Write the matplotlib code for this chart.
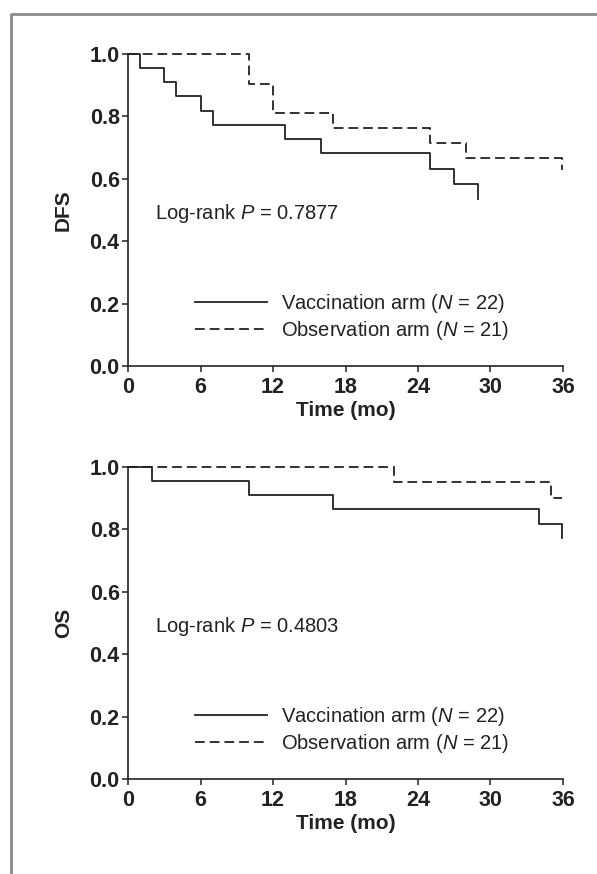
import matplotlib
matplotlib.use("Agg")
import matplotlib.pyplot as plt
from matplotlib.lines import Line2D

plt.rcParams['font.family'] = ['Liberation Sans', 'DejaVu Sans']
plt.rcParams['mathtext.fontset'] = 'custom'
plt.rcParams['mathtext.rm'] = 'Liberation Sans'
plt.rcParams['mathtext.it'] = 'Liberation Sans:italic'
plt.rcParams['lines.scale_dashes'] = False

# Kaplan-Meier steps (months, survival fraction)
dfs_vacc_t = [0, 1, 3, 4, 6, 7, 13, 16, 25, 27, 29]
dfs_vacc_s = [1.0, 0.955, 0.909, 0.864, 0.818, 0.773, 0.727, 0.682, 0.632, 0.584, 0.534]
dfs_obs_t = [0, 10, 12, 17, 25, 28, 35.9]
dfs_obs_s = [1.0, 0.905, 0.810, 0.762, 0.714, 0.667, 0.628]

os_vacc_t = [0, 2, 10, 17, 34, 35.9]
os_vacc_s = [1.0, 0.955, 0.909, 0.864, 0.818, 0.773]
os_obs_t = [0, 22, 35, 35.9]
os_obs_s = [1.0, 0.952, 0.900, 0.900]

x_ticks = [0, 6, 12, 18, 24, 30, 36]
y_ticks = [0.0, 0.2, 0.4, 0.6, 0.8, 1.0]
labels = ["Vaccination arm ($\\mathit{N}$ = 22)", "Observation arm ($\\mathit{N}$ = 21)"]
pvals = ["0.7877", "0.4803"]
ylabels = ["DFS", "OS"]

INK = '#222222'
W, H = 597, 874

fig = plt.figure(figsize=(W / 100, H / 100), dpi=100)

# grey frame, only top and left edges visible
fig.add_artist(Line2D([11 / W, 11 / W, 1.0], [0.0, 1 - 14 / H, 1 - 14 / H],
                      transform=fig.transFigure, color='#8c8c8c', lw=2.0))


def km_panel(rect, vacc_t, vacc_s, obs_t, obs_s, pval, ylab):
    ax = fig.add_axes(rect)
    ax.step(vacc_t, vacc_s, where='post', color=INK, lw=1.3, clip_on=False,
            label=labels[0])
    ax.step(obs_t, obs_s, where='post', color=INK, lw=1.3, clip_on=False,
            dashes=(7, 3.6), label=labels[1])
    ax.set_xlim(0, 36)
    ax.set_ylim(0, 1.0)
    ax.set_xticks(x_ticks)
    ax.set_yticks(y_ticks)
    ax.set_yticklabels(["%.1f" % v for v in y_ticks])
    for s in ('top', 'right'):
        ax.spines[s].set_visible(False)
    for s in ('left', 'bottom'):
        ax.spines[s].set_linewidth(1.2)
        ax.spines[s].set_color(INK)
    ax.tick_params(direction='out', length=4, width=1.1, color=INK,
                   labelsize=15.5, labelcolor=INK)
    ax.tick_params(axis='x', pad=4)
    ax.tick_params(axis='y', pad=2)
    for t in ax.get_xticklabels() + ax.get_yticklabels():
        t.set_fontweight('bold')
    ax.set_xlabel("Time (mo)", fontsize=15, fontweight='bold', color=INK, labelpad=2)
    ax.set_ylabel(ylab, fontsize=15, fontweight='bold', color=INK, labelpad=12)
    ax.text(2.2, 0.49, "Log-rank $\\mathit{P}$ = " + pval, fontsize=14.5,
            color=INK, va='center')
    ax.legend(loc='upper left', bbox_to_anchor=(0.13, 0.27), frameon=False,
              fontsize=14.5, handlelength=3.6, handletextpad=0.7,
              labelspacing=0.2, borderpad=0, labelcolor=INK)
    return ax


km_panel([128 / W, 1 - 366 / H, 435 / W, 312 / H],
         dfs_vacc_t, dfs_vacc_s, dfs_obs_t, dfs_obs_s, pvals[0], ylabels[0])
km_panel([128 / W, 1 - 779 / H, 435 / W, 312 / H],
         os_vacc_t, os_vacc_s, os_obs_t, os_obs_s, pvals[1], ylabels[1])

fig.savefig("out.png", dpi=100)
